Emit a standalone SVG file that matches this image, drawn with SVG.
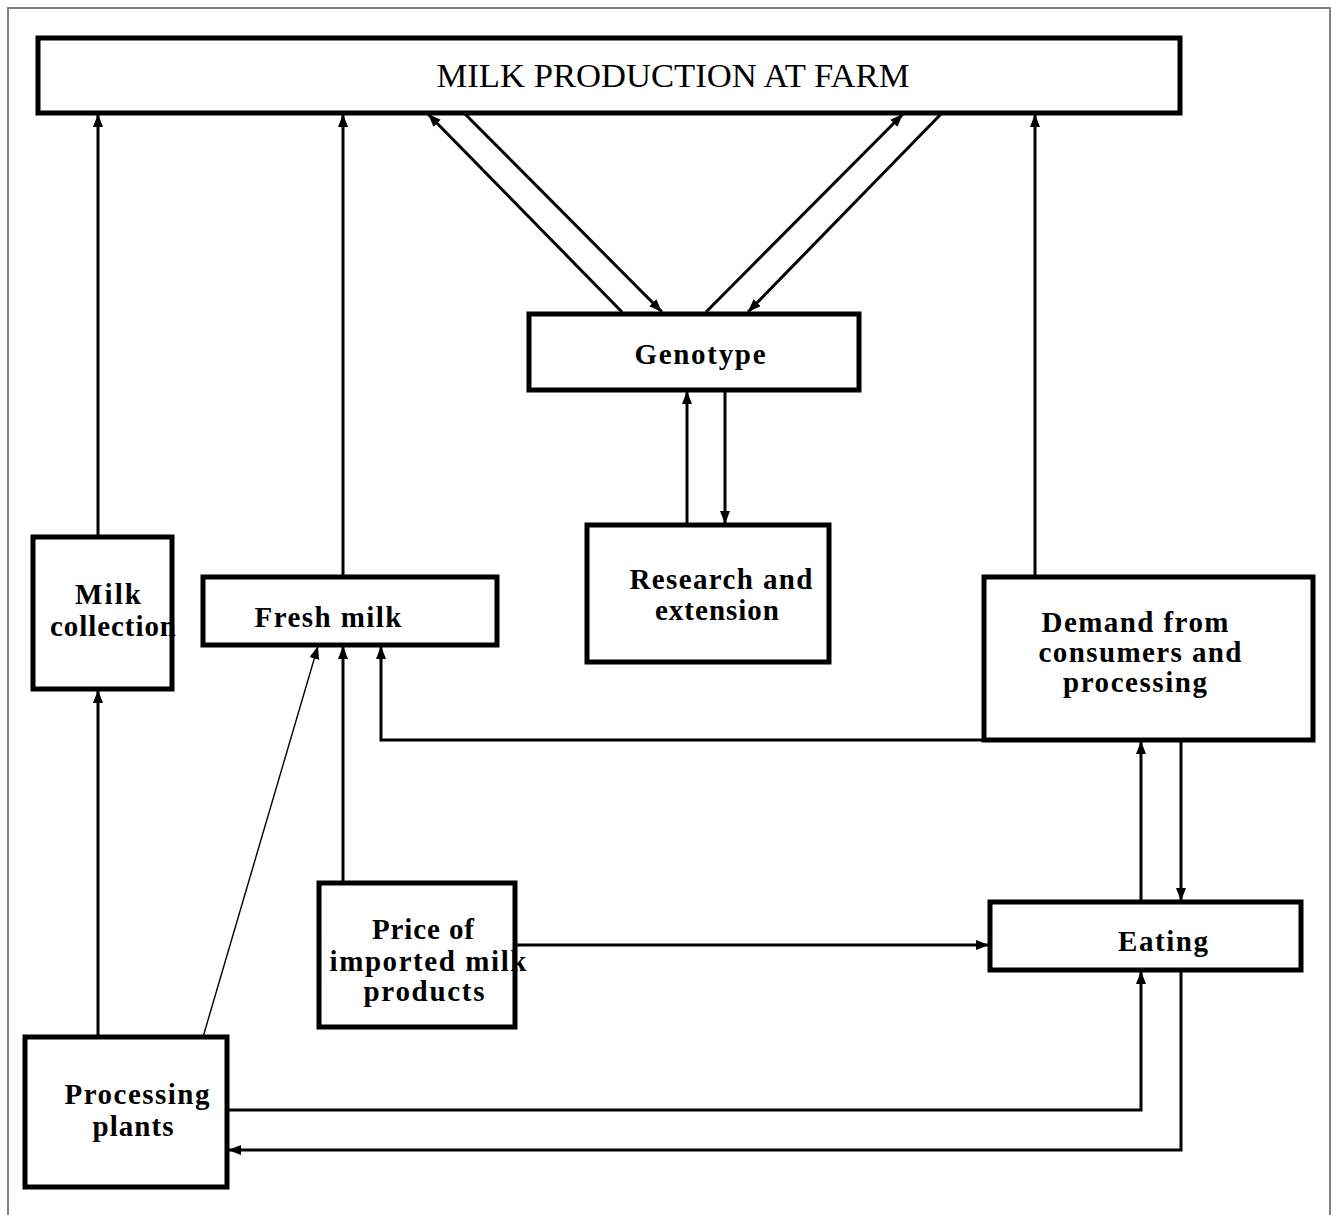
<svg xmlns="http://www.w3.org/2000/svg" width="1337" height="1215" viewBox="0 0 1337 1215">
<defs>
<marker id="ah" markerUnits="userSpaceOnUse" markerWidth="16" markerHeight="12" refX="13" refY="5" orient="auto">
<path d="M0,0 L13,5 L0,10 Z" fill="#000"/>
</marker>
<style>
.box{fill:#fff;stroke:#000;stroke-width:5}
.c{fill:none;stroke:#000;stroke-width:3}
.t{fill:none;stroke:#000;stroke-width:1.4}
.lbl{font-family:"Liberation Serif","Times New Roman",serif;font-size:29px;font-weight:bold;fill:#000;text-anchor:middle}
.ttl{font-family:"Liberation Serif","Times New Roman",serif;font-size:33px;fill:#000;text-anchor:middle}
</style>
</defs>
<rect width="1337" height="1215" fill="#fff"/>
<path d="M8,1215 V8 H1330 V1215" fill="none" stroke="#808080" stroke-width="2"/>

<g id="connectors">
<path class="c" d="M98,537 V114" marker-end="url(#ah)"/>
<path class="c" d="M343,577 V114" marker-end="url(#ah)"/>
<path class="c" d="M1035,577 V114" marker-end="url(#ah)"/>
<path class="c" d="M622,312 L428,114" marker-end="url(#ah)"/>
<path class="c" d="M465,114 L662,312" marker-end="url(#ah)"/>
<path class="c" d="M706,312 L903,114" marker-end="url(#ah)"/>
<path class="c" d="M941,114 L748,312" marker-end="url(#ah)"/>
<path class="c" d="M687,525 V391" marker-end="url(#ah)"/>
<path class="c" d="M725,391 V524" marker-end="url(#ah)"/>
<path class="c" d="M98,1037 V690" marker-end="url(#ah)"/>
<path class="t" d="M203,1037 L318,646" marker-end="url(#ah)"/>
<path class="c" d="M343,883 V646" marker-end="url(#ah)"/>
<path class="c" d="M984,740 H381 V646" marker-end="url(#ah)"/>
<path class="c" d="M1141,902 V741" marker-end="url(#ah)"/>
<path class="c" d="M1181,741 V901" marker-end="url(#ah)"/>
<path class="c" d="M516,945 H989" marker-end="url(#ah)"/>
<path class="c" d="M228,1110 H1141 V971" marker-end="url(#ah)"/>
<path class="c" d="M1181,971 V1150 H228" marker-end="url(#ah)"/>
</g>

<g id="milk-production">
<rect class="box" x="38" y="38" width="1142" height="75"/>
<text class="ttl" x="673" y="87" textLength="473" lengthAdjust="spacingAndGlyphs">MILK PRODUCTION AT FARM</text>
</g>
<g id="genotype">
<rect class="box" x="529" y="314" width="330" height="76"/>
<text class="lbl" x="700" y="364" textLength="131" lengthAdjust="spacing">Genotype</text>
</g>
<g id="research">
<rect class="box" x="587" y="525" width="242" height="137"/>
<text class="lbl" x="721" y="589" textLength="183" lengthAdjust="spacing">Research and</text>
<text class="lbl" x="717" y="620" textLength="124" lengthAdjust="spacing">extension</text>
</g>
<g id="milk-collection">
<rect class="box" x="33" y="537" width="139" height="152"/>
<text class="lbl" x="108" y="604" textLength="66" lengthAdjust="spacing">Milk</text>
<text class="lbl" x="113" y="636" textLength="126" lengthAdjust="spacing">collection</text>
</g>
<g id="fresh-milk">
<rect class="box" x="203" y="577" width="294" height="68"/>
<text class="lbl" x="328" y="627" textLength="147" lengthAdjust="spacing">Fresh milk</text>
</g>
<g id="demand">
<rect class="box" x="984" y="577" width="329" height="163"/>
<text class="lbl" x="1135" y="632" textLength="187" lengthAdjust="spacing">Demand from</text>
<text class="lbl" x="1140" y="662" textLength="203" lengthAdjust="spacing">consumers and</text>
<text class="lbl" x="1135" y="692" textLength="144" lengthAdjust="spacing">processing</text>
</g>
<g id="eating">
<rect class="box" x="990" y="902" width="311" height="68"/>
<text class="lbl" x="1163" y="951" textLength="90" lengthAdjust="spacing">Eating</text>
</g>
<g id="price">
<rect class="box" x="319" y="883" width="196" height="144"/>
<text class="lbl" x="423" y="939" textLength="102" lengthAdjust="spacing">Price of</text>
<text class="lbl" x="428" y="971" textLength="197" lengthAdjust="spacing">imported milk</text>
<text class="lbl" x="424" y="1001" textLength="121" lengthAdjust="spacing">products</text>
</g>
<g id="processing-plants">
<rect class="box" x="25" y="1037" width="202" height="150"/>
<text class="lbl" x="137" y="1104" textLength="145" lengthAdjust="spacing">Processing</text>
<text class="lbl" x="133" y="1136" textLength="81" lengthAdjust="spacing">plants</text>
</g>
</svg>
